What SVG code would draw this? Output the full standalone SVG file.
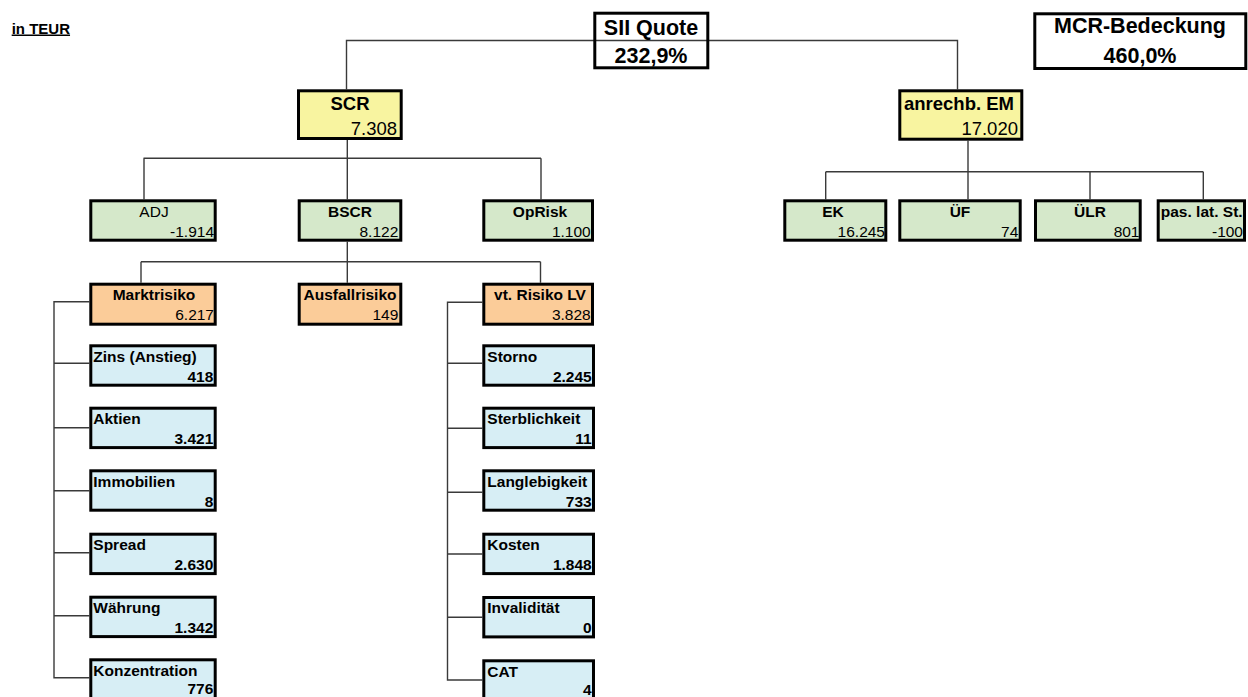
<svg xmlns="http://www.w3.org/2000/svg" width="1248" height="697" viewBox="0 0 1248 697">
<style>
text{font-family:"Liberation Sans",Arial,sans-serif;fill:#000}
.b{font-weight:bold}
.box{stroke:#000;stroke-width:3}
.y{fill:#F8F4A0}.g{fill:#D5E8CA}.o{fill:#FBCC99}.c{fill:#D7EEF5}.w{fill:none}
.conn{fill:none;stroke:#3a3a3a;stroke-width:1.4}
.t1{font-size:21.5px;font-weight:bold;text-anchor:middle}
.t2{font-size:18.5px}
.t3{font-size:15.5px}
.m{text-anchor:middle}.e{text-anchor:end}
</style>
<rect width="1248" height="697" fill="#fff"/>
<text x="11.7" y="33.5" class="b" style="font-size:15px;text-decoration:underline">in TEUR</text>

<g id="connectors" class="conn">
<path d="M346.5,89.3V40.5H957.5V89.3"/>
<path d="M347.3,140V199.3M143.5,158.3H541M144,158.3V199.3M541,158.3V199.3"/>
<path d="M347.3,241.7V282.7M141,261.7H540.5M141,261.7V282.7M540.5,261.7V282.7"/>
<path d="M968,140.7V199M825.7,171.7H1203.3M825.7,171.7V199.3M1090,171.7V199.3M1203.3,171.7V199.3"/>
<path d="M89.3,301.7H54V677.7H89.3M54,363.3H89.3M54,427.7H89.3M54,490.7H89.3M54,552.7H89.3M54,615.7H89.3"/>
<path d="M482.3,302.3H447.5V680H482.3M447.5,363.3H482.3M447.5,428.3H482.3M447.5,492.3H482.3M447.5,554H482.3M447.5,617.3H482.3"/>
</g>

<g id="sii">
<rect class="box w" x="594.8" y="13.2" width="113" height="54.6"/>
<text x="651" y="35" class="t1">SII Quote</text>
<text x="651" y="63" class="t1">232,9%</text>
</g>
<g id="mcr">
<rect class="box w" x="1034.8" y="13.8" width="211" height="54.7"/>
<text x="1140" y="33.3" class="t1">MCR-Bedeckung</text>
<text x="1140" y="62.7" class="t1">460,0%</text>
</g>

<g id="scr">
<rect class="box y" x="298.5" y="90.8" width="102.7" height="47.7"/>
<text x="350" y="110" class="t2 b m">SCR</text>
<text x="397" y="135" class="t2 e">7.308</text>
</g>
<g id="em">
<rect class="box y" x="899.8" y="90.8" width="122" height="48.4"/>
<text x="959" y="110" class="t2 b m">anrechb. EM</text>
<text x="1018" y="135" class="t2 e">17.020</text>
</g>

<g id="adj">
<rect class="box g" x="90.8" y="200.8" width="124.4" height="39.4"/>
<text x="154" y="217.3" class="t3 m">ADJ</text>
<text x="214" y="237.3" class="t3 e">-1.914</text>
</g>
<g id="bscr">
<rect class="box g" x="299.2" y="200.8" width="101.6" height="39.4"/>
<text x="350" y="217.3" class="t3 b m">BSCR</text>
<text x="398.3" y="237.3" class="t3 e">8.122</text>
</g>
<g id="oprisk">
<rect class="box g" x="483.8" y="200.8" width="108.7" height="39.4"/>
<text x="540" y="217.3" class="t3 b m">OpRisk</text>
<text x="590.7" y="237.3" class="t3 e">1.100</text>
</g>

<g id="ek">
<rect class="box g" x="784.8" y="200.8" width="101" height="39.4"/>
<text x="833" y="217.3" class="t3 b m">EK</text>
<text x="885" y="237.3" class="t3 e">16.245</text>
</g>
<g id="uef">
<rect class="box g" x="899.8" y="200.8" width="120.4" height="39.4"/>
<text x="960" y="217.3" class="t3 b m">ÜF</text>
<text x="1018.3" y="237.3" class="t3 e">74</text>
</g>
<g id="uelr">
<rect class="box g" x="1035.5" y="200.8" width="104.7" height="39.4"/>
<text x="1090" y="217.3" class="t3 b m">ÜLR</text>
<text x="1139.5" y="237.3" class="t3 e">801</text>
</g>
<g id="plst">
<rect class="box g" x="1158.2" y="200.8" width="86.3" height="39.4"/>
<text x="1201.7" y="217.3" class="t3 b m">pas. lat. St.</text>
<text x="1243" y="237.3" class="t3 e">-100</text>
</g>

<g id="markt">
<rect class="box o" x="90.8" y="284.2" width="124.4" height="40"/>
<text x="154" y="300" class="t3 b m">Marktrisiko</text>
<text x="214" y="320" class="t3 e">6.217</text>
</g>
<g id="ausfall">
<rect class="box o" x="299.2" y="284.2" width="101.6" height="40"/>
<text x="350" y="300" class="t3 b m">Ausfallrisiko</text>
<text x="398.3" y="320" class="t3 e">149</text>
</g>
<g id="vtlv">
<rect class="box o" x="483.8" y="284.2" width="108.7" height="40"/>
<text x="540" y="300" class="t3 b m">vt. Risiko LV</text>
<text x="590.7" y="320" class="t3 e">3.828</text>
</g>

<g id="zins">
<rect class="box c" x="90.8" y="345.8" width="124.4" height="39.4"/>
<text x="93.3" y="361.7" class="t3 b">Zins (Anstieg)</text>
<text x="213.3" y="381.7" class="t3 b e">418</text>
</g>
<g id="aktien">
<rect class="box c" x="90.8" y="408.2" width="124.4" height="39.4"/>
<text x="93.3" y="424.1" class="t3 b">Aktien</text>
<text x="213.3" y="444.1" class="t3 b e">3.421</text>
</g>
<g id="immo">
<rect class="box c" x="90.8" y="470.8" width="124.4" height="39.4"/>
<text x="93.3" y="486.7" class="t3 b">Immobilien</text>
<text x="213.3" y="506.7" class="t3 b e">8</text>
</g>
<g id="spread">
<rect class="box c" x="90.8" y="534.2" width="124.4" height="39.4"/>
<text x="93.3" y="550.1" class="t3 b">Spread</text>
<text x="213.3" y="570.1" class="t3 b e">2.630</text>
</g>
<g id="waehrung">
<rect class="box c" x="90.8" y="597.2" width="124.4" height="39.4"/>
<text x="93.3" y="613.1" class="t3 b">Währung</text>
<text x="213.3" y="633.1" class="t3 b e">1.342</text>
</g>
<g id="konz">
<rect class="box c" x="90.8" y="659.8" width="124.4" height="39.4"/>
<text x="93.3" y="675.5" class="t3 b">Konzentration</text>
<text x="213.3" y="694" class="t3 b e">776</text>
</g>

<g id="storno">
<rect class="box c" x="483.8" y="345.8" width="109.7" height="39.4"/>
<text x="487.3" y="361.7" class="t3 b">Storno</text>
<text x="591.7" y="381.7" class="t3 b e">2.245</text>
</g>
<g id="sterb">
<rect class="box c" x="483.8" y="408.2" width="109.7" height="39.4"/>
<text x="487.3" y="424.1" class="t3 b">Sterblichkeit</text>
<text x="591.7" y="444.1" class="t3 b e">11</text>
</g>
<g id="langl">
<rect class="box c" x="483.8" y="470.8" width="109.7" height="39.4"/>
<text x="487.3" y="486.7" class="t3 b">Langlebigkeit</text>
<text x="591.7" y="506.7" class="t3 b e">733</text>
</g>
<g id="kosten">
<rect class="box c" x="483.8" y="534.2" width="109.7" height="39.4"/>
<text x="487.3" y="550.1" class="t3 b">Kosten</text>
<text x="591.7" y="570.1" class="t3 b e">1.848</text>
</g>
<g id="inval">
<rect class="box c" x="483.8" y="597.5" width="109.7" height="39.4"/>
<text x="487.3" y="613.4" class="t3 b">Invalidität</text>
<text x="591.7" y="633.4" class="t3 b e">0</text>
</g>
<g id="cat">
<rect class="box c" x="483.8" y="660.8" width="109.7" height="39.4"/>
<text x="487.3" y="676.7" class="t3 b">CAT</text>
<text x="591.7" y="695" class="t3 b e">4</text>
</g>
</svg>
